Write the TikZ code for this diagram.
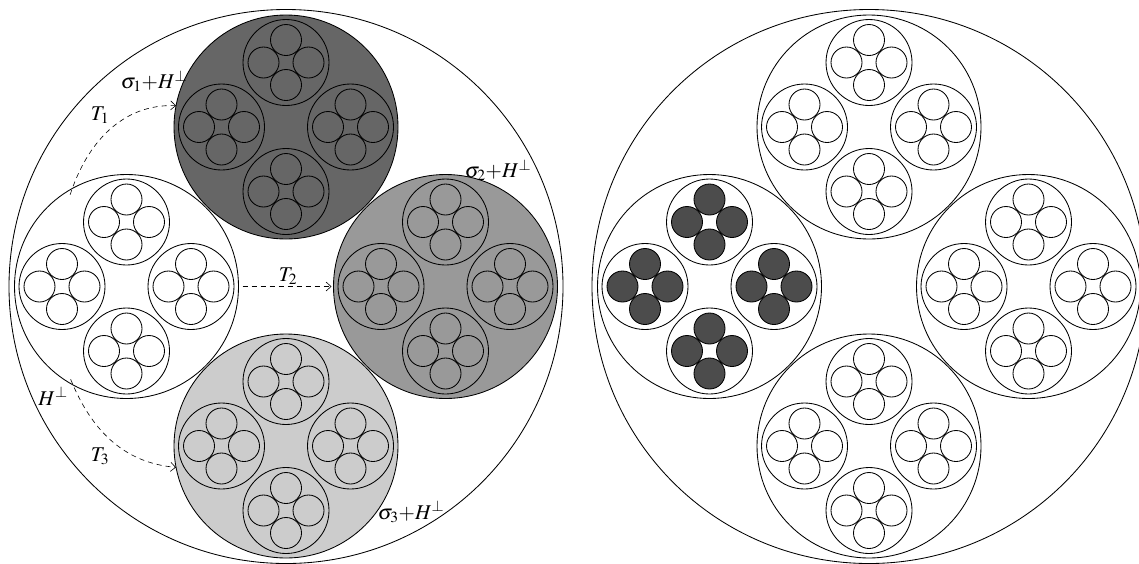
\documentclass[tikz,border=0pt]{standalone}
\usepackage{mathptmx}
\usetikzlibrary{arrows.meta}
\newcommand\RA{112}
\newcommand\DA{159.5}
\newcommand\RB{43}
\newcommand\DB{64.5}
\newcommand\RC{15.5}
\newcommand\DC{22.5}
% #1 name, #2 x, #3 y, #4 sub fill, #5 small fill
\newcommand\subring[5]{%
  \node[ring=224pt, fill=#4] (#1) at (#2,#3) {};
  \begin{scope}[shift={(#2,#3)}]
    \foreach \a in {0,90,180,270}{
      \begin{scope}[shift={(\a:\DB)}]
        \draw (0,0) circle (\RB);
        \foreach \b in {0,90,180,270}{\draw[fill=#5] (\b:\DC) circle (\RC);}
      \end{scope}
    }
  \end{scope}}
\begin{document}
\begin{tikzpicture}[x=1pt,y=-1pt, line width=0.85pt,
  ring/.style={circle, draw, inner sep=0pt, outer sep=0pt, minimum size=#1},
  lbl/.style={font=\fontsize{21}{24}\selectfont, inner sep=0pt},
  conn/.style={dash pattern=on 5pt off 4pt, line width=0.6pt,
     -{Straight Barb[length=5pt,width=9pt]}}]
\useasboundingbox (0,0) rectangle (1139,563);
\clip (0,0) rectangle (1139,563);
% ---------- left figure ----------
\node[ring=554pt] (LB) at (286,286.5) {};
\subring{W}{126.5}{286.5}{white}{white}
\subring{D}{286}{127}{black!60}{black!60}
\subring{G}{445.5}{286.5}{black!40}{black!40}
\subring{L}{286}{446}{black!20}{black!20}
% labels
\node[lbl] (s1) at (154,81) {$\sigma_1{+}H^{\perp}$};
\node[lbl] (s2) at (498,170) {$\sigma_2{+}H^{\perp}$};
\node[lbl] (s3) at (411,512) {$\sigma_3{+}H^{\perp}$};
\node[lbl] (hp) at (53,396) {$H^{\perp}$};
\node[lbl] (t1) at (100,115) {$T_1$};
\node[lbl] (t2) at (288,276) {$T_2$};
\node[lbl] (t3) at (100,456) {$T_3$};
% connectors
\coordinate (a1) at ([shift={(118:8)}]W.118);
\coordinate (a3) at ([shift={(242:7)}]W.242);
\draw[conn] (a1) to[out=72,in=178] (D.169);
\draw[conn, shorten <=4pt, shorten >=2pt] (W.east) -- (G.west);
\draw[conn] (a3) to[out=-68,in=175] (L.191);
% ---------- right figure ----------
\node[ring=554pt] (RB) at (869,286.5) {};
\subring{RL}{709.5}{286.5}{white}{black!70}
\subring{RT}{869}{127}{white}{white}
\subring{RR}{1028.5}{286.5}{white}{white}
\subring{RD}{869}{446}{white}{white}
\end{tikzpicture}
\end{document}
